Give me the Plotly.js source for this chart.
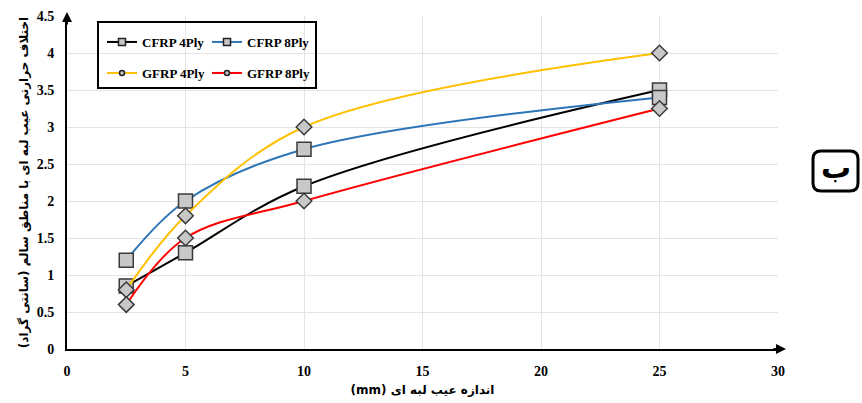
<!DOCTYPE html>
<html>
<head>
<meta charset="utf-8">
<script src="https://cdn.plot.ly/plotly-3.0.1.min.js"></script>
<style>html,body{margin:0;padding:0;background:#fff;}#chart{width:862px;height:403px;}</style>
</head>
<body>
<div id="chart"></div>
<script>
// Data
var defectSize = [2.5, 5, 10, 25];
var cfrp4 = [0.85, 1.3, 2.2, 3.5];
var cfrp8 = [1.2, 2.0, 2.7, 3.4];
var gfrp4 = [0.8, 1.8, 3.0, 4.0];
var gfrp8 = [0.6, 1.5, 2.0, 3.25];
var seriesNames = ['CFRP 4Ply', 'CFRP 8Ply', 'GFRP 4Ply', 'GFRP 8Ply'];
var xTicks = [0, 5, 10, 15, 20, 25, 30];
var yTicks = [0, 0.5, 1, 1.5, 2, 2.5, 3, 3.5, 4, 4.5];
var xTitle = 'اندازه عیب لبه ای (mm)';
var yTitle = 'اختلاف حرارتی عیب لبه ای با مناطق سالم (سانتی گراد)';
var panelLabel = 'ب';

function rtl(s) { return '\u202B' + s + '\u202C'; }

var colors = ['#000000', '#2e75b6', '#ffc000', '#ff0000'];
var symbols = ['square', 'square', 'diamond', 'diamond'];
var sizes = [14, 14, 12, 12];
var series = [cfrp4, cfrp8, gfrp4, gfrp8];
var legendIds = ['legend', 'legend2', 'legend3', 'legend4'];

var traces = [];
series.forEach(function (s, i) {
  traces.push({
    x: defectSize, y: s, type: 'scatter', mode: 'lines+markers',
    name: seriesNames[i], showlegend: false,
    line: {color: colors[i], width: 2, shape: 'spline', smoothing: 1},
    marker: {symbol: symbols[i], size: sizes[i], color: '#c8c8c8', line: {color: '#3a3a3a', width: 1.5}}
  });
});
// legend entries (small markers, like the reference legend)
seriesNames.forEach(function (n, i) {
  traces.push({
    x: [null], y: [null], type: 'scatter', mode: 'lines+markers', name: n,
    legend: legendIds[i], showlegend: true,
    line: {color: colors[i], width: 2},
    marker: {symbol: i < 2 ? 'square' : 'circle', size: i < 2 ? 7 : 5, color: '#c8c8c8', line: {color: '#222', width: 1.5}}
  });
});

var legFont = {family: 'Liberation Serif, Times New Roman, serif', size: 13, color: '#000', weight: 'bold'};
function leg(x, y) {
  return {x: x, y: y, xanchor: 'left', yanchor: 'middle', bgcolor: 'rgba(0,0,0,0)', borderwidth: 0, font: legFont, itemwidth: 30};
}
var pw = 711, ph = 333;
function px(v) { return (v - 67) / pw; }
function py(v) { return (349 - v) / ph; }

// rounded rect path for the panel label
var bx0 = px(813), bx1 = px(858), by0 = py(191), by1 = py(151);
var rx = 8 / pw, ry = 8 / ph;
var rpath = 'M ' + (bx0 + rx) + ',' + by1 + ' L ' + (bx1 - rx) + ',' + by1 +
  ' Q ' + bx1 + ',' + by1 + ' ' + bx1 + ',' + (by1 - ry) +
  ' L ' + bx1 + ',' + (by0 + ry) + ' Q ' + bx1 + ',' + by0 + ' ' + (bx1 - rx) + ',' + by0 +
  ' L ' + (bx0 + rx) + ',' + by0 + ' Q ' + bx0 + ',' + by0 + ' ' + bx0 + ',' + (by0 + ry) +
  ' L ' + bx0 + ',' + (by1 - ry) + ' Q ' + bx0 + ',' + by1 + ' ' + (bx0 + rx) + ',' + by1 + ' Z';

var tickFont = {family: 'Liberation Serif, Times New Roman, serif', size: 14, color: '#000', weight: 'bold'};
var titleFont = {family: 'DejaVu Sans, sans-serif', size: 12, color: '#000', weight: 'bold'};
var layout = {
  width: 862, height: 403,
  margin: {l: 67, r: 84, t: 16, b: 54},
  paper_bgcolor: '#fff', plot_bgcolor: '#fff',
  showlegend: true,
  xaxis: {
    range: [0, 30], tickvals: xTicks, ticktext: xTicks.map(String),
    showgrid: true, gridcolor: '#e4e4e4', gridwidth: 1,
    showline: true, linecolor: '#000', linewidth: 2, zeroline: false, ticks: '',
    ticklabelstandoff: 8, tickfont: tickFont,
    title: {text: rtl(xTitle), font: titleFont, standoff: 8}
  },
  yaxis: {
    range: [0, 4.5], tickvals: yTicks, ticktext: yTicks.map(String),
    showgrid: true, gridcolor: '#e4e4e4', gridwidth: 1,
    showline: true, linecolor: '#000', linewidth: 2, zeroline: false, ticks: '',
    ticklabelstandoff: 8, tickfont: tickFont,
    title: {text: rtl(yTitle), font: titleFont, standoff: 6}
  },
  legend: leg(px(102), py(42)),
  legend2: leg(px(207), py(42)),
  legend3: leg(px(102), py(73)),
  legend4: leg(px(207), py(73)),
  shapes: [
    {type: 'rect', xref: 'paper', yref: 'paper', x0: px(98), x1: px(316), y0: py(88), y1: py(22), line: {color: '#000', width: 2}},
    {type: 'path', xref: 'paper', yref: 'paper', path: rpath, line: {color: '#000', width: 3}}
  ],
  annotations: [
    {xref: 'paper', yref: 'paper', x: px(786), y: 0, ax: -14, ay: 0, text: '', showarrow: true, arrowhead: 2, arrowsize: 1, arrowwidth: 2, arrowcolor: '#000'},
    {xref: 'paper', yref: 'paper', x: 0, y: py(12), ax: 0, ay: 14, text: '', showarrow: true, arrowhead: 2, arrowsize: 1, arrowwidth: 2, arrowcolor: '#000'},
    {xref: 'paper', yref: 'paper', x: (bx0 + bx1) / 2, y: (by0 + by1) / 2 + 0.01, xanchor: 'center', yanchor: 'middle', showarrow: false,
     text: panelLabel, font: {family: 'DejaVu Sans, sans-serif', size: 30, color: '#000', weight: 'bold'}}
  ]
};

Plotly.newPlot('chart', traces, layout, {displayModeBar: false, staticPlot: true});
</script>
</body>
</html>
